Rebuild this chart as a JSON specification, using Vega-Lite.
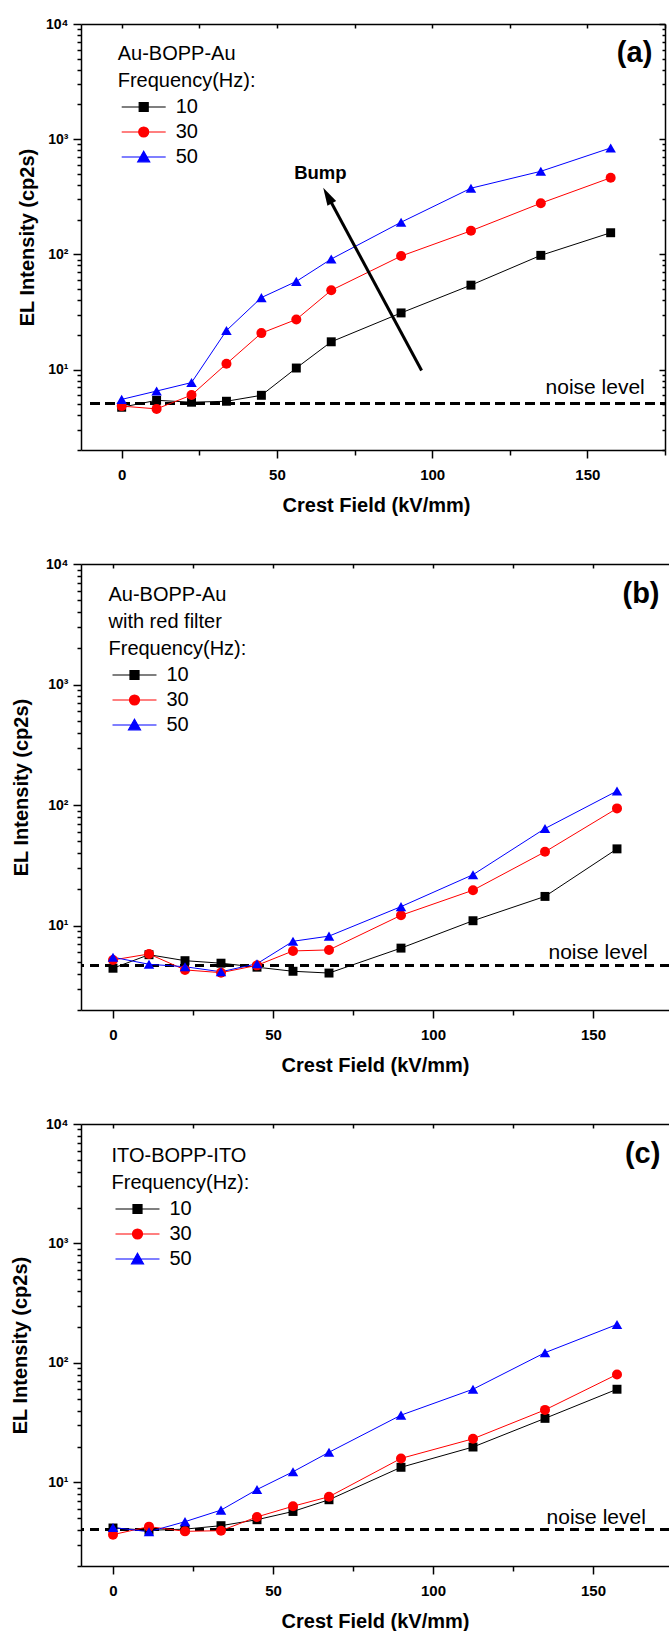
{
"$schema": "https://vega.github.io/schema/vega-lite/v6.json",
"padding": {"left": 10, "top": 17, "right": 0, "bottom": 0},
"spacing": 42,
"resolve": {"scale": {"shape": "independent", "fill": "independent"}, "legend": {"shape": "independent", "fill": "independent"}},
"config": {"view": {"stroke": null}, "font": "Liberation Sans",
  "axis": {"grid": false, "labelColor": "black", "titleColor": "black", "domainColor": "black", "tickColor": "black", "domainWidth": 1.5, "tickWidth": 1.5, "labelFont": "Liberation Sans", "titleFont": "Liberation Sans"},
  "legend": {"labelFont": "Liberation Sans", "titleFont": "Liberation Sans"}},
"datasets": {
 "a": [
  {"E":0,"I":4.7,"f":"10"},{"E":11.25,"I":5.4,"f":"10"},{"E":22.5,"I":5.2,"f":"10"},{"E":33.75,"I":5.3,"f":"10"},{"E":45,"I":5.97,"f":"10"},{"E":56.25,"I":10.3,"f":"10"},{"E":67.5,"I":17.4,"f":"10"},{"E":90,"I":31,"f":"10"},{"E":112.5,"I":54,"f":"10"},{"E":135,"I":98,"f":"10"},{"E":157.5,"I":154,"f":"10"},
  {"E":0,"I":4.81,"f":"30"},{"E":11.25,"I":4.55,"f":"30"},{"E":22.5,"I":6.0,"f":"30"},{"E":33.75,"I":11.2,"f":"30"},{"E":45,"I":20.7,"f":"30"},{"E":56.25,"I":27.2,"f":"30"},{"E":67.5,"I":48.7,"f":"30"},{"E":90,"I":96.6,"f":"30"},{"E":112.5,"I":160,"f":"30"},{"E":135,"I":278,"f":"30"},{"E":157.5,"I":462,"f":"30"},
  {"E":0,"I":5.5,"f":"50"},{"E":11.25,"I":6.5,"f":"50"},{"E":22.5,"I":7.7,"f":"50"},{"E":33.75,"I":21.8,"f":"50"},{"E":45,"I":42.1,"f":"50"},{"E":56.25,"I":58.2,"f":"50"},{"E":67.5,"I":91,"f":"50"},{"E":90,"I":190,"f":"50"},{"E":112.5,"I":375,"f":"50"},{"E":135,"I":526,"f":"50"},{"E":157.5,"I":839,"f":"50"}
 ],
 "b": [
  {"E":0,"I":4.44,"f":"10"},{"E":11.25,"I":5.75,"f":"10"},{"E":22.5,"I":5.13,"f":"10"},{"E":33.75,"I":4.89,"f":"10"},{"E":45,"I":4.53,"f":"10"},{"E":56.25,"I":4.19,"f":"10"},{"E":67.5,"I":4.05,"f":"10"},{"E":90,"I":6.52,"f":"10"},{"E":112.5,"I":11.0,"f":"10"},{"E":135,"I":17.5,"f":"10"},{"E":157.5,"I":43.4,"f":"10"},
  {"E":0,"I":5.2,"f":"30"},{"E":11.25,"I":5.83,"f":"30"},{"E":22.5,"I":4.3,"f":"30"},{"E":33.75,"I":4.08,"f":"30"},{"E":45,"I":4.69,"f":"30"},{"E":56.25,"I":6.18,"f":"30"},{"E":67.5,"I":6.3,"f":"30"},{"E":90,"I":12.2,"f":"30"},{"E":112.5,"I":19.7,"f":"30"},{"E":135,"I":41,"f":"30"},{"E":157.5,"I":94,"f":"30"},
  {"E":0,"I":5.48,"f":"50"},{"E":11.25,"I":4.79,"f":"50"},{"E":22.5,"I":4.57,"f":"50"},{"E":33.75,"I":4.15,"f":"50"},{"E":45,"I":4.84,"f":"50"},{"E":56.25,"I":7.43,"f":"50"},{"E":67.5,"I":8.2,"f":"50"},{"E":90,"I":14.4,"f":"50"},{"E":112.5,"I":26.5,"f":"50"},{"E":135,"I":64,"f":"50"},{"E":157.5,"I":131,"f":"50"}
 ],
 "c": [
  {"E":0,"I":4.16,"f":"10"},{"E":11.25,"I":3.98,"f":"10"},{"E":22.5,"I":4.07,"f":"10"},{"E":33.75,"I":4.35,"f":"10"},{"E":45,"I":4.88,"f":"10"},{"E":56.25,"I":5.72,"f":"10"},{"E":67.5,"I":7.17,"f":"10"},{"E":90,"I":13.4,"f":"10"},{"E":112.5,"I":19.8,"f":"10"},{"E":135,"I":34.4,"f":"10"},{"E":157.5,"I":60.3,"f":"10"},
  {"E":0,"I":3.66,"f":"30"},{"E":11.25,"I":4.27,"f":"30"},{"E":22.5,"I":3.9,"f":"30"},{"E":33.75,"I":3.95,"f":"30"},{"E":45,"I":5.15,"f":"30"},{"E":56.25,"I":6.33,"f":"30"},{"E":67.5,"I":7.6,"f":"30"},{"E":90,"I":15.9,"f":"30"},{"E":112.5,"I":23.2,"f":"30"},{"E":135,"I":40.5,"f":"30"},{"E":157.5,"I":80.2,"f":"30"},
  {"E":0,"I":4.2,"f":"50"},{"E":11.25,"I":3.87,"f":"50"},{"E":22.5,"I":4.7,"f":"50"},{"E":33.75,"I":5.87,"f":"50"},{"E":45,"I":8.73,"f":"50"},{"E":56.25,"I":12.3,"f":"50"},{"E":67.5,"I":17.9,"f":"50"},{"E":90,"I":36.6,"f":"50"},{"E":112.5,"I":60.3,"f":"50"},{"E":135,"I":122,"f":"50"},{"E":157.5,"I":210,"f":"50"}
 ]
},
"vconcat": [
{
 "width": 584, "height": 426,
 "data": {"name": "a"},
 "resolve": {"axis": {"x": "independent", "y": "independent"}},
 "layer": [
  {"mark": {"type": "rule", "strokeDash": [9, 6], "strokeWidth": 2, "color": "black"},
   "encoding": {"y": {"datum": 5.1, "type": "quantitative", "scale": {"type": "log", "domain": [2, 10000], "nice": false}, "axis": null},
     "x": {"datum": -10, "type": "quantitative", "scale": {"domain": [-13.1, 175], "nice": false, "zero": false}, "axis": null},
     "x2": {"datum": 175}}},
  {"transform": [{"filter": "datum.f == '10'"}],
   "mark": {"type": "line", "strokeWidth": 1, "color": "#000000"},
   "encoding": {
    "x": {"field": "E", "type": "quantitative", "scale": {"domain": [-13.1, 175], "nice": false, "zero": false},
      "axis": {"orient": "bottom", "title": "Crest Field (kV/mm)", "values": [0,25,50,75,100,125,150,175], "labelExpr": "datum.value % 50 == 0 ? datum.label : ''", "tickSize": {"condition": {"test": "datum.value % 50 == 0", "value": 8}, "value": 5}, "labelFontSize": 15, "labelFontWeight": "bold", "labelPadding": 9, "labelFlush": false, "labelOverlap": false, "titleFontSize": 20, "titleFontWeight": "bold", "titlePadding": 13, "titleX": 295}},
    "y": {"field": "I", "type": "quantitative", "scale": {"type": "log", "domain": [2, 10000], "nice": false},
      "axis": {"orient": "left", "title": "EL Intensity (cp2s)", "values": [2,3,4,5,6,7,8,9,10,20,30,40,50,60,70,80,90,100,200,300,400,500,600,700,800,900,1000,2000,3000,4000,5000,6000,7000,8000,9000,10000], "labelExpr": "datum.value == 10 ? '10¹' : datum.value == 100 ? '10²' : datum.value == 1000 ? '10³' : datum.value == 10000 ? '10⁴' : ''", "tickSize": {"condition": {"test": "indexof([10,100,1000,10000], datum.value) >= 0", "value": 8}, "value": 4}, "labelFontSize": 14, "labelFontWeight": "bold", "labelPadding": 5, "labelOverlap": false, "titleFontSize": 20, "titleFontWeight": "bold", "titlePadding": 8}}}},
  {"transform": [{"filter": "datum.f == '30'"}],
   "mark": {"type": "line", "strokeWidth": 1, "color": "#ff0000"},
   "encoding": {
    "x": {"field": "E", "type": "quantitative", "scale": {"domain": [-13.1, 175], "nice": false, "zero": false}, "axis": null},
    "y": {"field": "I", "type": "quantitative", "scale": {"type": "log", "domain": [2, 10000], "nice": false}, "axis": null}}},
  {"transform": [{"filter": "datum.f == '50'"}],
   "mark": {"type": "line", "strokeWidth": 1, "color": "#0000ff"},
   "encoding": {
    "x": {"field": "E", "type": "quantitative", "scale": {"domain": [-13.1, 175], "nice": false, "zero": false}, "axis": null},
    "y": {"field": "I", "type": "quantitative", "scale": {"type": "log", "domain": [2, 10000], "nice": false}, "axis": null}}},
  {"transform": [{"filter": "datum.f == '10'"}],
   "mark": {"type": "point", "filled": true, "shape": "square", "size": 80, "opacity": 1, "color": "#000000"},
   "encoding": {
    "x": {"field": "E", "type": "quantitative", "scale": {"domain": [-13.1, 175], "nice": false, "zero": false},
      "axis": {"orient": "top", "title": null, "labels": false, "values": [0,25,50,75,100,125,150,175], "tickSize": -4}},
    "y": {"field": "I", "type": "quantitative", "scale": {"type": "log", "domain": [2, 10000], "nice": false},
      "axis": {"orient": "right", "title": null, "labels": false, "values": [2,3,4,5,6,7,8,9,10,20,30,40,50,60,70,80,90,100,200,300,400,500,600,700,800,900,1000,2000,3000,4000,5000,6000,7000,8000,9000,10000], "tickSize": {"condition": {"test": "indexof([10,100,1000,10000], datum.value) >= 0", "value": -6}, "value": -3}}}}},
  {"transform": [{"filter": "datum.f == '30'"}],
   "mark": {"type": "point", "filled": true, "shape": "circle", "size": 100, "opacity": 1, "color": "#ff0000"},
   "encoding": {
    "x": {"field": "E", "type": "quantitative", "scale": {"domain": [-13.1, 175], "nice": false, "zero": false}, "axis": null},
    "y": {"field": "I", "type": "quantitative", "scale": {"type": "log", "domain": [2, 10000], "nice": false}, "axis": null}}},
  {"transform": [{"filter": "datum.f == '50'"}],
   "mark": {"type": "point", "filled": true, "shape": "triangle-up", "size": 110, "opacity": 1, "color": "#0000ff"},
   "encoding": {
    "x": {"field": "E", "type": "quantitative", "scale": {"domain": [-13.1, 175], "nice": false, "zero": false}, "axis": null},
    "y": {"field": "I", "type": "quantitative", "scale": {"type": "log", "domain": [2, 10000], "nice": false}, "axis": null}}},
  {"transform": [{"filter": "datum.E < -1000"}],
   "mark": {"type": "point", "filled": true, "size": 144},
   "encoding": {
    "x": {"field": "E", "type": "quantitative", "scale": {"domain": [-13.1, 175], "nice": false, "zero": false}, "axis": null},
    "y": {"field": "I", "type": "quantitative", "scale": {"type": "log", "domain": [2, 10000], "nice": false}, "axis": null},
    "fill": {"field": "f", "type": "nominal", "legend": null},
    "shape": {"field": "f", "type": "nominal", "scale": {"domain": ["10","30","50"], "range": ["M-1,0H6.333M1.917,-0.75H3.417V0.75H1.917Z", "M-1,0H6.333M1.834,0A0.833,0.833 0 1,0 3.5,0A0.833,0.833 0 1,0 1.834,0Z", "M-1,0H6.333M2.667,-0.95L3.667,0.8H1.667Z"]},
      "legend": {"title": ["Au-BOPP-Au", "Frequency(Hz):"], "orient": "none", "legendX": 36.7, "legendY": 20, "direction": "vertical", "padding": 0, "titleFontSize": 20, "titleFontWeight": "normal", "titleLineHeight": 27, "titlePadding": 6, "titleColor": "black", "labelColor": "black", "labelFontSize": 20, "labelOffset": 38, "symbolSize": 144, "symbolStrokeWidth": 1.2, "symbolOpacity": 1, "rowPadding": 5,
        "symbolFillColor": {"expr": "datum.value == '30' ? '#ff0000' : datum.value == '50' ? '#0000ff' : '#000000'"},
        "symbolStrokeColor": {"expr": "datum.value == '30' ? '#ff0000' : datum.value == '50' ? '#0000ff' : '#000000'"}}}}},
  {"data": {"values": [{}]},
   "mark": {"type": "text", "text": "noise level", "fontSize": 21, "color": "black"},
   "encoding": {"x": {"datum": 152.5, "type": "quantitative", "scale": {"domain": [-13.1, 175], "nice": false, "zero": false}, "axis": null},
     "y": {"datum": 6.9, "type": "quantitative", "scale": {"type": "log", "domain": [2, 10000], "nice": false}, "axis": null}}},
  {"data": {"values": [{}]},
   "mark": {"type": "text", "text": "(a)", "fontSize": 29, "fontWeight": "bold", "color": "black"},
   "encoding": {"x": {"datum": 165.2, "type": "quantitative", "scale": {"domain": [-13.1, 175], "nice": false, "zero": false}, "axis": null},
     "y": {"datum": 5570, "type": "quantitative", "scale": {"type": "log", "domain": [2, 10000], "nice": false}, "axis": null}}},
  {"data": {"values": [{}]},
   "mark": {"type": "text", "text": "Bump", "fontSize": 18.5, "fontWeight": "bold", "color": "black"},
   "encoding": {"x": {"datum": 64, "type": "quantitative", "scale": {"domain": [-13.1, 175], "nice": false, "zero": false}, "axis": null},
     "y": {"datum": 508, "type": "quantitative", "scale": {"type": "log", "domain": [2, 10000], "nice": false}, "axis": null}}},
  {"data": {"values": [{"x1": 96.6, "y1": 9.8, "x2": 66.3, "y2": 324}]},
   "mark": {"type": "rule", "strokeWidth": 3, "color": "black"},
   "encoding": {"x": {"field": "x1", "type": "quantitative", "scale": {"domain": [-13.1, 175], "nice": false, "zero": false}, "axis": null},
     "y": {"field": "y1", "type": "quantitative", "scale": {"type": "log", "domain": [2, 10000], "nice": false}, "axis": null},
     "x2": {"field": "x2"}, "y2": {"field": "y2"}}},
  {"data": {"values": [{"x2": 66.3, "y2": 324}]},
   "mark": {"type": "point", "filled": true, "shape": "M0,-1L0.55,1L-0.55,1Z", "size": 324, "angle": 331.5, "color": "black", "opacity": 1},
   "encoding": {"x": {"field": "x2", "type": "quantitative", "scale": {"domain": [-13.1, 175], "nice": false, "zero": false}, "axis": null},
     "y": {"field": "y2", "type": "quantitative", "scale": {"type": "log", "domain": [2, 10000], "nice": false}, "axis": null}}}
 ]
},
{
 "width": 588, "height": 446,
 "data": {"name": "b"},
 "resolve": {"axis": {"x": "independent", "y": "independent"}},
 "layer": [
  {"mark": {"type": "rule", "strokeDash": [9, 6], "strokeWidth": 2, "color": "black"},
   "encoding": {"y": {"datum": 4.67, "type": "quantitative", "scale": {"type": "log", "domain": [2, 10000], "nice": false}, "axis": null}}},
  {"transform": [{"filter": "datum.f == '10'"}],
   "mark": {"type": "line", "strokeWidth": 1, "color": "#000000"},
   "encoding": {
    "x": {"field": "E", "type": "quantitative", "scale": {"domain": [-10, 173.75], "nice": false, "zero": false},
      "axis": {"orient": "bottom", "title": "Crest Field (kV/mm)", "values": [0,25,50,75,100,125,150], "labelExpr": "datum.value % 50 == 0 ? datum.label : ''", "tickSize": {"condition": {"test": "datum.value % 50 == 0", "value": 8}, "value": 5}, "labelFontSize": 15, "labelFontWeight": "bold", "labelPadding": 9, "labelFlush": false, "labelOverlap": false, "titleFontSize": 20, "titleFontWeight": "bold", "titlePadding": 13}},
    "y": {"field": "I", "type": "quantitative", "scale": {"type": "log", "domain": [2, 10000], "nice": false},
      "axis": {"orient": "left", "title": "EL Intensity (cp2s)", "values": [2,3,4,5,6,7,8,9,10,20,30,40,50,60,70,80,90,100,200,300,400,500,600,700,800,900,1000,2000,3000,4000,5000,6000,7000,8000,9000,10000], "labelExpr": "datum.value == 10 ? '10¹' : datum.value == 100 ? '10²' : datum.value == 1000 ? '10³' : datum.value == 10000 ? '10⁴' : ''", "tickSize": {"condition": {"test": "indexof([10,100,1000,10000], datum.value) >= 0", "value": 8}, "value": 4}, "labelFontSize": 14, "labelFontWeight": "bold", "labelPadding": 5, "labelOverlap": false, "titleFontSize": 20, "titleFontWeight": "bold", "titlePadding": 14}}}},
  {"transform": [{"filter": "datum.f == '30'"}],
   "mark": {"type": "line", "strokeWidth": 1, "color": "#ff0000"},
   "encoding": {
    "x": {"field": "E", "type": "quantitative", "scale": {"domain": [-10, 173.75], "nice": false, "zero": false}, "axis": null},
    "y": {"field": "I", "type": "quantitative", "scale": {"type": "log", "domain": [2, 10000], "nice": false}, "axis": null}}},
  {"transform": [{"filter": "datum.f == '50'"}],
   "mark": {"type": "line", "strokeWidth": 1, "color": "#0000ff"},
   "encoding": {
    "x": {"field": "E", "type": "quantitative", "scale": {"domain": [-10, 173.75], "nice": false, "zero": false}, "axis": null},
    "y": {"field": "I", "type": "quantitative", "scale": {"type": "log", "domain": [2, 10000], "nice": false}, "axis": null}}},
  {"transform": [{"filter": "datum.f == '10'"}],
   "mark": {"type": "point", "filled": true, "shape": "square", "size": 80, "opacity": 1, "color": "#000000"},
   "encoding": {
    "x": {"field": "E", "type": "quantitative", "scale": {"domain": [-10, 173.75], "nice": false, "zero": false},
      "axis": {"orient": "top", "title": null, "labels": false, "values": [0,25,50,75,100,125,150], "tickSize": -4}},
    "y": {"field": "I", "type": "quantitative", "scale": {"type": "log", "domain": [2, 10000], "nice": false}, "axis": null}}},
  {"transform": [{"filter": "datum.f == '30'"}],
   "mark": {"type": "point", "filled": true, "shape": "circle", "size": 100, "opacity": 1, "color": "#ff0000"},
   "encoding": {
    "x": {"field": "E", "type": "quantitative", "scale": {"domain": [-10, 173.75], "nice": false, "zero": false}, "axis": null},
    "y": {"field": "I", "type": "quantitative", "scale": {"type": "log", "domain": [2, 10000], "nice": false}, "axis": null}}},
  {"transform": [{"filter": "datum.f == '50'"}],
   "mark": {"type": "point", "filled": true, "shape": "triangle-up", "size": 110, "opacity": 1, "color": "#0000ff"},
   "encoding": {
    "x": {"field": "E", "type": "quantitative", "scale": {"domain": [-10, 173.75], "nice": false, "zero": false}, "axis": null},
    "y": {"field": "I", "type": "quantitative", "scale": {"type": "log", "domain": [2, 10000], "nice": false}, "axis": null}}},
  {"transform": [{"filter": "datum.E < -1000"}],
   "mark": {"type": "point", "filled": true, "size": 144},
   "encoding": {
    "x": {"field": "E", "type": "quantitative", "scale": {"domain": [-10, 173.75], "nice": false, "zero": false}, "axis": null},
    "y": {"field": "I", "type": "quantitative", "scale": {"type": "log", "domain": [2, 10000], "nice": false}, "axis": null},
    "fill": {"field": "f", "type": "nominal", "legend": null},
    "shape": {"field": "f", "type": "nominal", "scale": {"domain": ["10","30","50"], "range": ["M-1,0H6.333M1.917,-0.75H3.417V0.75H1.917Z", "M-1,0H6.333M1.834,0A0.833,0.833 0 1,0 3.5,0A0.833,0.833 0 1,0 1.834,0Z", "M-1,0H6.333M2.667,-0.95L3.667,0.8H1.667Z"]},
      "legend": {"title": ["Au-BOPP-Au", "with red filter", "Frequency(Hz):"], "orient": "none", "legendX": 27.5, "legendY": 21, "direction": "vertical", "padding": 0, "titleFontSize": 20, "titleFontWeight": "normal", "titleLineHeight": 27, "titlePadding": 6, "titleColor": "black", "labelColor": "black", "labelFontSize": 20, "labelOffset": 38, "symbolSize": 144, "symbolStrokeWidth": 1.2, "symbolOpacity": 1, "rowPadding": 5,
        "symbolFillColor": {"expr": "datum.value == '30' ? '#ff0000' : datum.value == '50' ? '#0000ff' : '#000000'"},
        "symbolStrokeColor": {"expr": "datum.value == '30' ? '#ff0000' : datum.value == '50' ? '#0000ff' : '#000000'"}}}}},
  {"data": {"values": [{}]},
   "mark": {"type": "text", "text": "noise level", "fontSize": 21, "color": "black"},
   "encoding": {"x": {"datum": 151.6, "type": "quantitative", "scale": {"domain": [-10, 173.75], "nice": false, "zero": false}, "axis": null},
     "y": {"datum": 5.9, "type": "quantitative", "scale": {"type": "log", "domain": [2, 10000], "nice": false}, "axis": null}}},
  {"data": {"values": [{}]},
   "mark": {"type": "text", "text": "(b)", "fontSize": 29, "fontWeight": "bold", "color": "black"},
   "encoding": {"x": {"datum": 165, "type": "quantitative", "scale": {"domain": [-10, 173.75], "nice": false, "zero": false}, "axis": null},
     "y": {"datum": 5600, "type": "quantitative", "scale": {"type": "log", "domain": [2, 10000], "nice": false}, "axis": null}}}
 ]
},
{
 "width": 588, "height": 442,
 "data": {"name": "c"},
 "resolve": {"axis": {"x": "independent", "y": "independent"}},
 "layer": [
  {"mark": {"type": "rule", "strokeDash": [9, 6], "strokeWidth": 2, "color": "black"},
   "encoding": {"y": {"datum": 4.03, "type": "quantitative", "scale": {"type": "log", "domain": [2, 10000], "nice": false}, "axis": null}}},
  {"transform": [{"filter": "datum.f == '10'"}],
   "mark": {"type": "line", "strokeWidth": 1, "color": "#000000"},
   "encoding": {
    "x": {"field": "E", "type": "quantitative", "scale": {"domain": [-10, 173.75], "nice": false, "zero": false},
      "axis": {"orient": "bottom", "title": "Crest Field (kV/mm)", "values": [0,25,50,75,100,125,150], "labelExpr": "datum.value % 50 == 0 ? datum.label : ''", "tickSize": {"condition": {"test": "datum.value % 50 == 0", "value": 8}, "value": 5}, "labelFontSize": 15, "labelFontWeight": "bold", "labelPadding": 9, "labelFlush": false, "labelOverlap": false, "titleFontSize": 20, "titleFontWeight": "bold", "titlePadding": 13}},
    "y": {"field": "I", "type": "quantitative", "scale": {"type": "log", "domain": [2, 10000], "nice": false},
      "axis": {"orient": "left", "title": "EL Intensity (cp2s)", "values": [2,3,4,5,6,7,8,9,10,20,30,40,50,60,70,80,90,100,200,300,400,500,600,700,800,900,1000,2000,3000,4000,5000,6000,7000,8000,9000,10000], "labelExpr": "datum.value == 10 ? '10¹' : datum.value == 100 ? '10²' : datum.value == 1000 ? '10³' : datum.value == 10000 ? '10⁴' : ''", "tickSize": {"condition": {"test": "indexof([10,100,1000,10000], datum.value) >= 0", "value": 8}, "value": 4}, "labelFontSize": 14, "labelFontWeight": "bold", "labelPadding": 5, "labelOverlap": false, "titleFontSize": 20, "titleFontWeight": "bold", "titlePadding": 15}}}},
  {"transform": [{"filter": "datum.f == '30'"}],
   "mark": {"type": "line", "strokeWidth": 1, "color": "#ff0000"},
   "encoding": {
    "x": {"field": "E", "type": "quantitative", "scale": {"domain": [-10, 173.75], "nice": false, "zero": false}, "axis": null},
    "y": {"field": "I", "type": "quantitative", "scale": {"type": "log", "domain": [2, 10000], "nice": false}, "axis": null}}},
  {"transform": [{"filter": "datum.f == '50'"}],
   "mark": {"type": "line", "strokeWidth": 1, "color": "#0000ff"},
   "encoding": {
    "x": {"field": "E", "type": "quantitative", "scale": {"domain": [-10, 173.75], "nice": false, "zero": false}, "axis": null},
    "y": {"field": "I", "type": "quantitative", "scale": {"type": "log", "domain": [2, 10000], "nice": false}, "axis": null}}},
  {"transform": [{"filter": "datum.f == '10'"}],
   "mark": {"type": "point", "filled": true, "shape": "square", "size": 80, "opacity": 1, "color": "#000000"},
   "encoding": {
    "x": {"field": "E", "type": "quantitative", "scale": {"domain": [-10, 173.75], "nice": false, "zero": false},
      "axis": {"orient": "top", "title": null, "labels": false, "values": [0,25,50,75,100,125,150], "tickSize": -4}},
    "y": {"field": "I", "type": "quantitative", "scale": {"type": "log", "domain": [2, 10000], "nice": false}, "axis": null}}},
  {"transform": [{"filter": "datum.f == '30'"}],
   "mark": {"type": "point", "filled": true, "shape": "circle", "size": 100, "opacity": 1, "color": "#ff0000"},
   "encoding": {
    "x": {"field": "E", "type": "quantitative", "scale": {"domain": [-10, 173.75], "nice": false, "zero": false}, "axis": null},
    "y": {"field": "I", "type": "quantitative", "scale": {"type": "log", "domain": [2, 10000], "nice": false}, "axis": null}}},
  {"transform": [{"filter": "datum.f == '50'"}],
   "mark": {"type": "point", "filled": true, "shape": "triangle-up", "size": 110, "opacity": 1, "color": "#0000ff"},
   "encoding": {
    "x": {"field": "E", "type": "quantitative", "scale": {"domain": [-10, 173.75], "nice": false, "zero": false}, "axis": null},
    "y": {"field": "I", "type": "quantitative", "scale": {"type": "log", "domain": [2, 10000], "nice": false}, "axis": null}}},
  {"transform": [{"filter": "datum.E < -1000"}],
   "mark": {"type": "point", "filled": true, "size": 144},
   "encoding": {
    "x": {"field": "E", "type": "quantitative", "scale": {"domain": [-10, 173.75], "nice": false, "zero": false}, "axis": null},
    "y": {"field": "I", "type": "quantitative", "scale": {"type": "log", "domain": [2, 10000], "nice": false}, "axis": null},
    "fill": {"field": "f", "type": "nominal", "legend": null},
    "shape": {"field": "f", "type": "nominal", "scale": {"domain": ["10","30","50"], "range": ["M-1,0H6.333M1.917,-0.75H3.417V0.75H1.917Z", "M-1,0H6.333M1.834,0A0.833,0.833 0 1,0 3.5,0A0.833,0.833 0 1,0 1.834,0Z", "M-1,0H6.333M2.667,-0.95L3.667,0.8H1.667Z"]},
      "legend": {"title": ["ITO-BOPP-ITO", "Frequency(Hz):"], "orient": "none", "legendX": 30.5, "legendY": 22, "direction": "vertical", "padding": 0, "titleFontSize": 20, "titleFontWeight": "normal", "titleLineHeight": 27, "titlePadding": 6, "titleColor": "black", "labelColor": "black", "labelFontSize": 20, "labelOffset": 38, "symbolSize": 144, "symbolStrokeWidth": 1.2, "symbolOpacity": 1, "rowPadding": 5,
        "symbolFillColor": {"expr": "datum.value == '30' ? '#ff0000' : datum.value == '50' ? '#0000ff' : '#000000'"},
        "symbolStrokeColor": {"expr": "datum.value == '30' ? '#ff0000' : datum.value == '50' ? '#0000ff' : '#000000'"}}}}},
  {"data": {"values": [{}]},
   "mark": {"type": "text", "text": "noise level", "fontSize": 21, "color": "black"},
   "encoding": {"x": {"datum": 151, "type": "quantitative", "scale": {"domain": [-10, 173.75], "nice": false, "zero": false}, "axis": null},
     "y": {"datum": 5.0, "type": "quantitative", "scale": {"type": "log", "domain": [2, 10000], "nice": false}, "axis": null}}},
  {"data": {"values": [{}]},
   "mark": {"type": "text", "text": "(c)", "fontSize": 29, "fontWeight": "bold", "color": "black"},
   "encoding": {"x": {"datum": 165.5, "type": "quantitative", "scale": {"domain": [-10, 173.75], "nice": false, "zero": false}, "axis": null},
     "y": {"datum": 5640, "type": "quantitative", "scale": {"type": "log", "domain": [2, 10000], "nice": false}, "axis": null}}}
 ]
}
]
}
